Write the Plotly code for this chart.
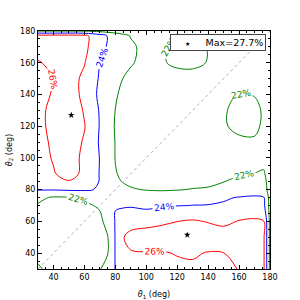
import plotly.graph_objects as go

# grid coordinates (deg)
theta1 = [30, 40, 50, 60, 70, 75, 80, 85, 90, 100, 110, 120, 130, 140, 150, 160, 170, 176, 180]
theta2 = [30, 40, 50, 60, 70, 75, 80, 85, 90, 100, 110, 120, 130, 140, 150, 160, 170, 177, 180]

# efficiency (%) along theta1 for each theta2 row
eff_t2_030 = [22.2, 21.5, 21.2, 21.3, 21.9, 22.8, 24.05, 24.6, 25.0, 25.3, 25.5, 25.6, 25.7, 25.7, 25.7, 26.05, 26.6, 26.2, 21.5]
eff_t2_040 = [21.6, 21.1, 20.9, 21.0, 21.6, 21.9, 24.1, 25.3, 25.85, 25.9, 25.85, 26.1, 26.2, 25.9, 25.98, 26.5, 26.8, 26.2, 21.5]
eff_t2_050 = [21.3, 20.8, 20.6, 20.8, 21.4, 21.9, 24.1, 25.9, 26.6, 27.0, 27.2, 27.5, 27.7, 27.1, 26.9, 26.8, 26.8, 26.2, 21.5]
eff_t2_060 = [21.6, 21.0, 20.8, 21.0, 21.6, 22.6, 24.1, 24.8, 25.2, 25.3, 25.6, 25.98, 26.2, 25.9, 25.6, 26.1, 26.3, 26.05, 21.5]
eff_t2_070 = [21.85, 21.6, 21.5, 21.7, 22.2, 22.8, 23.95, 23.85, 23.85, 23.6, 23.8, 23.95, 24.02, 24.05, 24.2, 24.5, 24.6, 24.4, 21.3]
eff_t2_075 = [22.4, 21.8, 21.9, 22.3, 22.9, 23.1, 23.4, 23.6, 23.5, 23.3, 23.3, 23.5, 23.6, 23.6, 23.8, 24.1, 24.3, 24.1, 21.3]
eff_t2_080 = [24.1, 24.1, 24.2, 24.2, 23.85, 23.2, 22.9, 22.6, 22.2, 21.9, 21.8, 21.9, 22.1, 22.15, 22.3, 22.7, 22.9, 22.7, 21.3]
eff_t2_085 = [25.0, 25.5, 25.9, 25.3, 23.9, 23.0, 22.4, 21.9, 21.6, 21.4, 21.3, 21.3, 21.4, 21.7, 21.98, 22.4, 22.6, 22.5, 21.3]
eff_t2_090 = [25.2, 25.9, 26.5, 25.7, 23.9, 23.0, 22.1, 21.7, 21.3, 21.0, 20.9, 20.9, 21.0, 21.3, 21.6, 21.85, 22.02, 22.2, 21.0]
eff_t2_100 = [25.5, 26.1, 26.8, 25.6, 23.95, 23.0, 21.95, 21.5, 21.2, 20.9, 20.8, 20.8, 20.9, 21.0, 21.2, 21.4, 21.5, 21.4, 20.8]
eff_t2_110 = [25.6, 26.2, 27.0, 25.8, 23.8, 22.9, 21.95, 21.4, 21.1, 20.8, 20.6, 20.6, 20.7, 20.9, 21.2, 21.6, 21.7, 21.5, 20.8]
eff_t2_120 = [25.6, 26.4, 27.4, 26.1, 23.9, 22.9, 21.85, 21.3, 21.0, 20.7, 20.5, 20.5, 20.6, 21.0, 21.8, 22.5, 22.5, 21.6, 20.8]
eff_t2_130 = [25.6, 26.4, 27.6, 25.8, 23.85, 23.0, 21.98, 21.4, 21.0, 20.6, 20.4, 20.4, 20.6, 21.0, 21.8, 22.6, 22.6, 21.7, 20.8]
eff_t2_140 = [25.6, 26.1, 27.0, 25.5, 23.6, 22.9, 22.2, 21.6, 21.2, 20.7, 20.5, 20.5, 20.7, 21.0, 21.6, 22.1, 21.9, 21.5, 20.8]
eff_t2_150 = [25.7, 25.98, 26.8, 25.6, 23.8, 23.3, 22.6, 21.98, 21.6, 21.1, 21.0, 21.2, 21.2, 21.0, 20.9, 21.1, 21.2, 21.1, 20.8]
eff_t2_160 = [25.9, 26.3, 27.0, 26.1, 24.02, 23.6, 23.1, 22.6, 22.15, 21.5, 21.8, 22.4, 22.5, 21.9, 21.3, 21.0, 21.0, 21.0, 20.8]
eff_t2_170 = [26.6, 26.8, 27.0, 26.4, 24.8, 23.8, 23.4, 22.9, 22.3, 21.5, 21.7, 22.5, 22.6, 21.9, 21.2, 21.0, 20.9, 20.9, 20.8]
eff_t2_177 = [26.6, 26.6, 26.7, 26.4, 24.9, 23.9, 23.2, 22.5, 21.9, 21.3, 21.3, 21.8, 21.9, 21.4, 21.0, 20.9, 20.9, 20.9, 20.8]
eff_t2_180 = [21.9, 21.9, 21.9, 21.9, 21.5, 21.3, 21.1, 21.0, 20.9, 20.8, 20.8, 20.8, 20.8, 20.8, 20.8, 20.8, 20.8, 20.8, 20.8]

levels = [22, 24, 26]
level_colors = ["#008000", "#0000ff", "#ff0000"]

max_theta1 = [51.5, 126.5]
max_theta2 = [127, 51.5]
max_value = 27.7

axis_range = [30, 180]
diag_line = [30, 180]

rows = [eff_t2_030, eff_t2_040, eff_t2_050, eff_t2_060, eff_t2_070, eff_t2_075,
        eff_t2_080, eff_t2_085, eff_t2_090, eff_t2_100, eff_t2_110, eff_t2_120,
        eff_t2_130, eff_t2_140, eff_t2_150, eff_t2_160, eff_t2_170, eff_t2_177,
        eff_t2_180]
z = [[v / 100.0 for v in r] for r in rows]

FONT = "DejaVu Sans"
NB = "\u00a0"

fig = go.Figure()

fig.add_trace(go.Scatter(
    x=diag_line, y=diag_line, mode="lines",
    line=dict(color="#b0b0b0", width=1, dash="3px,3px"),
    showlegend=False, hoverinfo="skip"))

fig.add_trace(go.Contour(
    x=theta1, y=theta2, z=z,
    autocontour=False,
    contours=dict(start=levels[0] / 100, end=levels[-1] / 100,
                  size=(levels[1] - levels[0]) / 100,
                  coloring="lines", showlabels=True, labelformat=".0%",
                  labelfont=dict(family=FONT, size=9)),
    colorscale=[[0, level_colors[0]], [0.5, level_colors[1]], [1, level_colors[2]]],
    zauto=False, zmin=levels[0] / 100, zmax=levels[-1] / 100,
    line=dict(width=1, smoothing=1),
    showscale=False, showlegend=False, hoverinfo="skip"))

fig.add_trace(go.Scatter(
    x=max_theta1, y=max_theta2, mode="markers",
    marker=dict(symbol="star", size=5, color="black"),
    name=f"Max={max_value}%", showlegend=False))

# compact legend box (like the reference's legend)
fig.add_annotation(
    xref="paper", yref="paper", x=0.981, y=0.986, xanchor="right", yanchor="top",
    showarrow=False, align="left",
    text=f"{NB*4}<span style='font-size:6px'>★</span>{NB*5}Max={max_value}%",
    font=dict(family=FONT, size=9.5, color="black"),
    bgcolor="white", bordercolor="#444444", borderwidth=1, borderpad=2,
)

axis_common = dict(
    range=axis_range, dtick=20, ticks="inside", ticklen=4, tickwidth=1,
    tickcolor="black", showline=True, linecolor="black", linewidth=1,
    mirror="allticks", showgrid=False, zeroline=False, automargin=False,
    tickfont=dict(family=FONT, size=8, color="black"),
    minor=dict(ticks="inside", ticklen=2, dtick=5, tickcolor="black", showgrid=False),
)

fig.update_layout(
    width=300, height=300,
    margin=dict(l=37.5, r=30, t=31, b=31),
    paper_bgcolor="white", plot_bgcolor="white",
    font=dict(family=FONT, size=8, color="black"),
    xaxis=dict(title=dict(text="<i>θ</i><sub>1</sub> (deg)", font=dict(family=FONT, size=8)),
               **axis_common),
    yaxis=dict(title=dict(text="<i>θ</i><sub>2</sub> (deg)", font=dict(family=FONT, size=8),
                          standoff=6),
               **axis_common),
    showlegend=False,
)

fig.write_html("out.html", config={"displayModeBar": False},
               post_script="document.body.style.margin='0px';")
